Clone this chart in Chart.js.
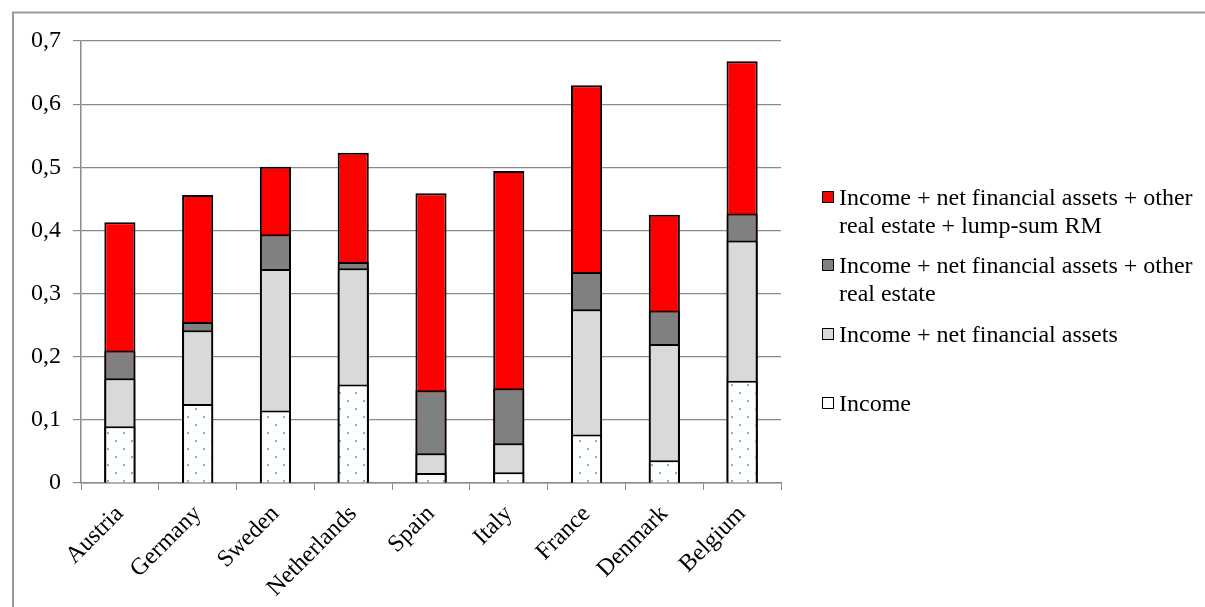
<!DOCTYPE html>
<html>
<head>
<meta charset="utf-8">
<script src="https://cdn.jsdelivr.net/npm/chart.js@4.4.1/dist/chart.umd.min.js"></script>
<style>
  html, body { margin: 0; padding: 0; background: #fff; }
  #wrap { position: relative; width: 1205px; height: 607px; overflow: hidden; }
  #chart { position: absolute; left: 0; top: 0; }
  .lg-item { position: absolute; left: 822px; font-family: "Liberation Serif", "Times New Roman", serif;
             font-size: 24px; line-height: 28px; color: #000; white-space: nowrap; }
  .lg-box { position: absolute; left: 0; top: 8px; width: 10px; height: 10px; border: 1px solid #000; }
  .lg-text { position: absolute; left: 17px; top: 0; }
</style>
</head>
<body>
<div id="wrap">
  <canvas id="chart" width="1205" height="607"></canvas>
  <div id="legend"></div>
</div>
<script>
// Countries on the horizontal axis
const categories = ['Austria', 'Germany', 'Sweden', 'Netherlands', 'Spain', 'Italy', 'France', 'Denmark', 'Belgium'];

// Each series is the cumulative level reached by adding one more resource
const income = [0.090, 0.125, 0.115, 0.156, 0.016, 0.017, 0.077, 0.036, 0.162];
const incomeNfa = [0.166, 0.242, 0.339, 0.340, 0.047, 0.063, 0.275, 0.220, 0.384];
const incomeNfaOre = [0.210, 0.255, 0.394, 0.350, 0.147, 0.150, 0.334, 0.273, 0.427];
const incomeNfaOreRm = [0.413, 0.456, 0.501, 0.523, 0.459, 0.494, 0.630, 0.425, 0.668];

const seriesLabels = [
  'Income',
  'Income + net financial assets',
  'Income + net financial assets + other real estate',
  'Income + net financial assets + other real estate + lump-sum RM'
];

// Y axis tick values
const yTicks = [0, 0.1, 0.2, 0.3, 0.4, 0.5, 0.6, 0.7];

// Dotted fill used for the income bars
function dotPattern() {
  const c = document.createElement('canvas');
  c.width = 16; c.height = 16;
  const g = c.getContext('2d');
  g.fillStyle = '#fbfdfe';
  g.fillRect(0, 0, 16, 16);
  g.fillStyle = '#8fa8ba';
  g.fillRect(11, 0, 2, 2);
  g.fillRect(3, 8, 2, 2);
  return g.createPattern(c, 'repeat');
}
const incomeFill = dotPattern();

const fills = [incomeFill, '#d9d9d9', '#808080', '#ff0000'];
const values = [income, incomeNfa, incomeNfaOre, incomeNfaOreRm];

// Bars overlap on the same category; lower cumulative levels are drawn on top
const datasets = values.map((v, i) => ({
  label: seriesLabels[i],
  data: v,
  backgroundColor: fills[i],
  borderColor: '#000',
  borderWidth: 2,
  order: i,
  categoryPercentage: 1.0,
  barPercentage: 0.4
}));

const fontSpec = { family: '"Liberation Serif", "Times New Roman", serif', size: 24 };
const axisGrey = '#8a8a8a';

// Outer frame of the chart object (top and left edges)
const framePlugin = {
  id: 'frame',
  beforeDraw(chart) {
    const ctx = chart.ctx;
    ctx.save();
    ctx.strokeStyle = '#9a9a9a';
    ctx.lineWidth = 2;
    ctx.beginPath();
    ctx.moveTo(13, 607);
    ctx.lineTo(13, 12.5);
    ctx.lineTo(1205, 12.5);
    ctx.stroke();
    ctx.restore();
  }
};

new Chart(document.getElementById('chart'), {
  type: 'bar',
  data: { labels: categories, datasets },
  plugins: [framePlugin],
  options: {
    responsive: false,
    animation: false,
    devicePixelRatio: 1,
    layout: { padding: { left: 0, top: 41, right: 424, bottom: 0 } },
    plugins: { legend: { display: false }, tooltip: { enabled: false } },
    scales: {
      x: {
        stacked: true,
        grid: { display: true, drawOnChartArea: false, drawTicks: true, tickLength: 7, color: axisGrey, lineWidth: 1 },
        border: { color: axisGrey, width: 1.5 },
        ticks: { font: fontSpec, color: '#000', minRotation: 45, maxRotation: 45, autoSkip: false, padding: 10 },
        afterFit(scale) { scale.height = 124; }
      },
      y: {
        stacked: false,
        min: 0,
        max: 0.7,
        afterBuildTicks(scale) { scale.ticks = yTicks.map(v => ({ value: v })); },
        grid: { color: axisGrey, lineWidth: 1.2, tickLength: 8 },
        border: { color: axisGrey, width: 1.5 },
        ticks: {
          font: fontSpec,
          color: '#000',
          padding: 12,
          callback: v => (v === 0 ? '0' : Number(v).toFixed(1).replace('.', ','))
        },
        afterFit(scale) { scale.width = 81; }
      }
    }
  }
});

// Legend at the right, highest level first
const legendTops = [183, 251, 320, 389];
const legendTexts = [
  ['Income + net financial assets + other', 'real estate + lump-sum RM'],
  ['Income + net financial assets + other', 'real estate'],
  ['Income + net financial assets'],
  ['Income']
];
const legendFills = ['#ff0000', '#808080', '#d9d9d9', null];
const legend = document.getElementById('legend');
legendTexts.forEach((lines, i) => {
  const item = document.createElement('div');
  item.className = 'lg-item';
  item.style.top = legendTops[i] + 'px';
  const box = document.createElement('div');
  box.className = 'lg-box';
  if (legendFills[i]) {
    box.style.background = legendFills[i];
  } else {
    box.style.background = '#fbfdfe';
  }
  const text = document.createElement('div');
  text.className = 'lg-text';
  text.innerHTML = lines.map(s => s.replace(/&/g, '&amp;').replace(/</g, '&lt;')).join('<br>');
  item.appendChild(box);
  item.appendChild(text);
  legend.appendChild(item);
});
</script>
</body>
</html>
